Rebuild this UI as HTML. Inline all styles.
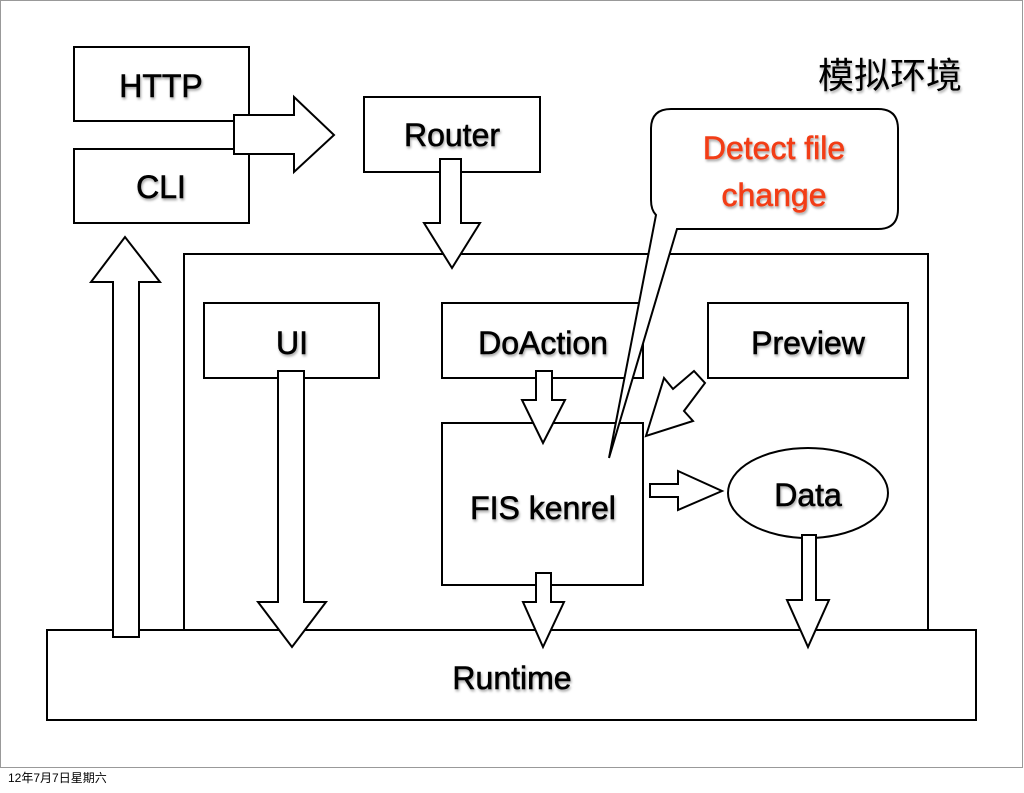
<!DOCTYPE html>
<html><head><meta charset="utf-8"><style>
body{margin:0;background:#fff;}
svg text{font-family:"Liberation Sans","Noto Sans CJK SC",sans-serif;}
</style></head><body>
<svg width="1024" height="788" viewBox="0 0 1024 788" xmlns="http://www.w3.org/2000/svg">
<defs><filter id="sh" x="-10%" y="-10%" width="120%" height="130%"><feDropShadow dx="1" dy="2" stdDeviation="1.2" flood-color="#000" flood-opacity="0.35"/></filter></defs>
<rect x="0.5" y="0.5" width="1022" height="767" fill="#fff" stroke="#999" stroke-width="1"/>
<g fill="#fff" stroke="#000" stroke-width="2">
<rect x="184" y="254" width="744" height="376"/>
<rect x="74" y="47" width="175" height="74"/>
<rect x="74" y="149" width="175" height="74"/>
<rect x="364" y="97" width="176" height="75"/>
<rect x="204" y="303" width="175" height="75"/>
<rect x="442" y="303" width="201" height="75"/>
<rect x="708" y="303" width="200" height="75"/>
<rect x="442" y="423" width="201" height="162"/>
<ellipse cx="808" cy="493" rx="80" ry="45"/>
<rect x="47" y="630" width="929" height="90"/>
<polygon points="234,115 294,115 294,97 334,135 294,172 294,154 234,154"/>
<polygon points="440,159 461,159 461,223 480,223 452,268 424,223 440,223"/>
<polygon points="113,637 139,637 139,282 160,282 125,237 91,282 113,282"/>
<polygon points="278,371 304,371 304,602 326,602 292,647 258,602 278,602"/>
<polygon points="536,371 552,371 552,400 565,400 543,443 522,400 536,400"/>
<polygon points="536,573 551,573 551,602 564,602 543,647 523,602 536,602"/>
<polygon points="802,535 816,535 816,600 829,600 808,647 787,600 802,600"/>
<polygon points="650,484 678,484 678,471 722,491 678,510 678,497 650,497"/>
<polygon points="705,383 694,371 673,389 664,378 646,436 693,421 684,411"/>
<path d="M671,109 H878 Q898,109 898,129 V209 Q898,229 878,229 H677 L609,458 L656,215 Q651,210 651,200 V129 Q651,109 671,109 Z"/>
</g>
<g font-size="32" text-anchor="middle" fill="#000" stroke="#000" stroke-width="0.6" filter="url(#sh)">
<text x="161" y="97">HTTP</text>
<text x="161" y="198">CLI</text>
<text x="452" y="146">Router</text>
<text x="292" y="354">UI</text>
<text x="543" y="354">DoAction</text>
<text x="808" y="354">Preview</text>
<text x="543" y="519">FIS kenrel</text>
<text x="808" y="506">Data</text>
<text x="512" y="689">Runtime</text>
</g>
<g font-size="32" text-anchor="middle" fill="#f23d14" stroke="#f23d14" stroke-width="0.6" filter="url(#sh)">
<text x="774" y="159">Detect file</text>
<text x="774" y="206">change</text>
</g>
<text x="890" y="88" font-size="36" text-anchor="middle" fill="#000" filter="url(#sh)">模拟环境</text>
<text x="8" y="782" font-size="12" fill="#000">12年7月7日星期六</text>
</svg>
</body></html>
